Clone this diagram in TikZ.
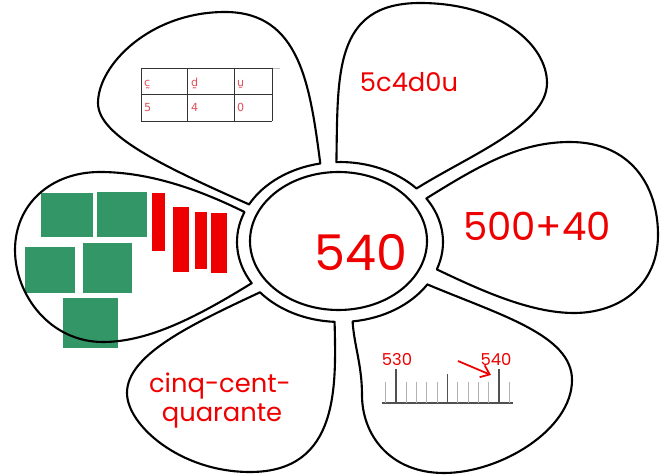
\documentclass[tikz,border=0pt]{standalone}
\usepackage{fontspec}
\setsansfont{Poppins}
\newfontfamily\markfont{DejaVu Sans}
\usetikzlibrary{arrows.meta}
\definecolor{flowerred}{RGB}{238,0,0}
\definecolor{tablered}{RGB}{222,80,90}
\definecolor{blockgreen}{RGB}{51,150,102}
\definecolor{tickgray}{RGB}{80,80,80}

\begin{document}
\begin{tikzpicture}[
		x=0.03cm, y=0.03cm,
		petal/.style={draw, line width=1.8pt, line join=round},
		block/.style={fill=blockgreen},
		rod/.style={fill=flowerred},
		every node/.style={font=\sffamily, text=flowerred, inner sep=0pt},
		cell/.style={anchor=base west, text=tablered, font=\markfont\fontsize{9.5}{10}\selectfont}
	]
  \useasboundingbox (0,0) rectangle (668,475);
  \fill[white] (0,0) rectangle (668,475);

  \fill[block] (41,238) rectangle (93,282);
  \fill[block] (97,238) rectangle (147,283);
  \fill[block] (25,182) rectangle (75,228);
  \fill[block] (83,182) rectangle (132,232);
  \fill[block] (63,127) rectangle (118,177);
  \fill[rod] (152,224) rectangle (165,282);
  \fill[rod] (173,203) rectangle (189,268);
  \fill[rod] (195,206) rectangle (207,263);
  \fill[rod] (211,202) rectangle (227,262);

  \draw[petal] (249.1,270.6) .. controls (160,310) and (98,340) .. (98,372)
    .. controls (98,410) and (150,463) .. (225,463)
    .. controls (300,463) and (310,390) .. (320.3,311.5)
    arc[start angle=101, end angle=152, x radius=103, y radius=80] -- cycle;
  \draw[petal] (336.4,313) .. controls (338,400) and (333,472) .. (420,472)
    .. controls (500,472) and (547,430) .. (547,392)
    .. controls (547,350) and (470,320) .. (416.5,286.5)
    arc[start angle=42, end angle=92, x radius=103, y radius=80] -- cycle;
  \draw[petal] (426.4,276.6) .. controls (480,310) and (520,333) .. (570,333)
    .. controls (630,333) and (658,290) .. (658,240)
    .. controls (658,190) and (620,162) .. (574,162)
    .. controls (530,162) and (480,185) .. (436.8,205.6)
    arc[start angle=-20, end angle=33, x radius=103, y radius=80] -- cycle;
  \draw[petal] (427.3,190.6) .. controls (500,160) and (572,140) .. (572,95)
    .. controls (572,45) and (500,2) .. (444,2)
    .. controls (390,2) and (362,40) .. (362,80)
    .. controls (362,110) and (354,130) .. (352.6,153.6)
    arc[start angle=-83, end angle=-32, x radius=103, y radius=80] -- cycle;
  \draw[petal] (334.6,153.1) .. controls (336,90) and (340,3) .. (250,3)
    .. controls (180,3) and (127,50) .. (127,82)
    .. controls (127,120) and (190,150) .. (260,182.7)
    arc[start angle=-141, end angle=-93, x radius=103, y radius=80] -- cycle;
  \draw[petal] (251.7,191.8) .. controls (200,160) and (150,133) .. (103,133)
    .. controls (50,133) and (15,180) .. (15,225)
    .. controls (15,270) and (50,303) .. (100,303)
    .. controls (150,303) and (200,285) .. (244.5,263)
    arc[start angle=158, end angle=211, x radius=103, y radius=80] -- cycle;
  \draw[petal] (338.5,234) ellipse [x radius=88.5, y radius=69];

  \draw[gray!50, line width=0.6pt] (141,407) -- (280,407);
  \draw[black!80, line width=0.8pt] (141,407) -- (272,407) (141,381) -- (272,381) (141,354) -- (272,354);
  \foreach \x in {141,187,234,272}
    \draw[black!80, line width=0.8pt] (\x,407) -- (\x,354);
  \node (cell_c) [cell] at (144,388) {c̰};
  \node (cell_d) [cell] at (191,388) {d̰};
  \node (cell_u) [cell] at (237,388) {ṵ};
  \node (cell_5) [cell] at (144,363) {5};
  \node (cell_4) [cell] at (191,363) {4};
  \node (cell_0) [cell] at (237,363) {0};

  \node (center_num) [font=\sffamily\fontsize{42}{48}\selectfont] at (361,222.5) {540};
  \node (abbrev) [font=\sffamily\fontsize{22}{26}\selectfont] at (409,393) {5c4d0u};
  \node (sum) [font=\sffamily\fontsize{33}{38}\selectfont] at (537,249) {500+40};
  \node (words_1) [anchor=base, font=\sffamily\fontsize{22}{26}\selectfont] at (220,82) {cinq-cent-};
  \node (words_2) [anchor=base, font=\sffamily\fontsize{22}{26}\selectfont] at (222,53) {quarante};

  \draw[tickgray, line width=1.2pt] (382,72) -- (513,72);
  \foreach \k in {-1,1,2,3,4,6,7,8,9,11}
    \draw[gray!60, line width=0.9pt] (396+10.3*\k,72) -- (396+10.3*\k,93);
  \draw[tickgray, line width=1.2pt] (447.5,72) -- (447.5,101);
  \draw[tickgray, line width=1.2pt] (396,72) -- (396,106);
  \draw[tickgray, line width=1.2pt] (499,72) -- (499,106);
  \node (tick_530) [anchor=base, font=\sffamily\fontsize{14}{16}\selectfont] at (397,109) {530};
  \node (tick_540) [anchor=base, font=\sffamily\fontsize{14}{16}\selectfont] at (496,109) {540};
  \coordinate (arrow_from) at (458,114);
  \coordinate (arrow_to) at (491,100);
  \draw[-{Straight Barb[length=7pt,width=11pt]}, flowerred, line width=1.5pt] (arrow_from) -- (arrow_to);
\end{tikzpicture}
\end{document}
